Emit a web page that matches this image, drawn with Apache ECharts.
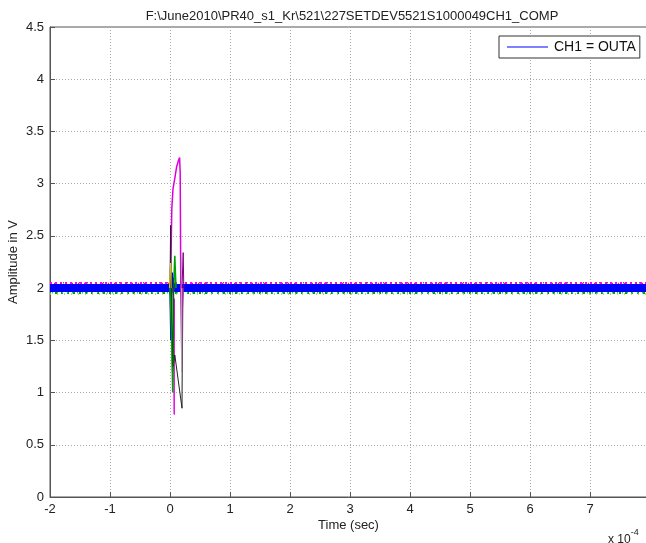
<!DOCTYPE html>
<html>
<head>
<meta charset="utf-8">
<script src="https://cdn.jsdelivr.net/npm/echarts@6/dist/echarts.min.js"></script>
<style>html,body{margin:0;padding:0;background:#fff;}#c{width:646px;height:543px;}</style>
</head>
<body>
<div id="c"></div>
<script>
// Time axis in units of 1e-4 s
var xTicks = [-2, -1, 0, 1, 2, 3, 4, 5, 6, 7];
var yTicks = [0, 0.5, 1, 1.5, 2, 2.5, 3, 3.5, 4, 4.5];
var timeStart = -2, timeEnd = 7.95;

// baseline band levels (V) of overlapping traces
var bandMagenta = [2.048, 2.048];
var bandRed = [2.042, 2.042];
var bandGreen = [1.952, 1.952];
var bandCyan = [1.957, 1.957];
var bandYellow = [1.944, 1.944];
var bandGray = [2.052, 2.052];
var bandBlue = [2.0, 2.0];

// transient traces near t = 0: [time (1e-4 s), volts]
var spikeMagenta = [[0.0, 2.0], [0.02, 2.4], [0.03, 2.76], [0.05, 2.95], [0.08, 3.05], [0.11, 3.16], [0.14, 3.22], [0.16, 3.25], [0.17, 3.1], [0.18, 2.0], [0.2, 1.2], [0.21, 1.8], [0.22, 2.0]];
var spikeMagenta2 = [[0.05, 2.0], [0.07, 0.79], [0.075, 1.9]];
var spikeBlack = [[0.0, 2.0], [0.01, 2.6], [0.02, 1.9], [0.04, 1.2], [0.08, 1.36], [0.2, 0.85], [0.21, 2.0]];
var spikeGray = [[0.19, 2.3], [0.195, 1.2], [0.2, 2.0]];
var spikeGreen = [[0.0, 2.0], [0.03, 1.5], [0.045, 1.0], [0.06, 2.0], [0.08, 2.31], [0.1, 2.0]];
var spikeDarkGreen = [[0.02, 2.0], [0.05, 1.25], [0.06, 2.1], [0.07, 2.0]];
var spikeYellow = [[-0.01, 2.0], [0.01, 2.24], [0.02, 2.0]];
var spikePurple = [[0.2, 2.0], [0.22, 2.34], [0.23, 2.0]];
var spikeBlue = [[0.0, 2.0], [0.015, 1.5], [0.03, 2.0], [0.04, 2.15], [0.05, 2.0]];

function flat(levels) { return [[timeStart, levels[0]], [timeEnd, levels[1]]]; }

function bandSeries(levels, color, width, dash, offset) {
  return { type: 'line', data: flat(levels), symbol: 'none', silent: true, color: color,
    lineStyle: { color: color, width: width, type: dash, dashOffset: offset || 0, cap: 'butt' } };
}
function spikeSeries(data, color, width) {
  return { type: 'line', data: data, symbol: 'none', silent: true, color: color,
    lineStyle: { color: color, width: width || 1 } };
}

var font = 'Liberation Sans, Arial, sans-serif';
var chart = echarts.init(document.getElementById('c'), null, { renderer: 'canvas' });
chart.setOption({
  animation: false,
  backgroundColor: '#fff',
  title: {
    text: 'F:\\June2010\\PR40_s1_Kr\\521\\227SETDEV5521S1000049CH1_COMP',
    left: 347, top: 5, textAlign: 'center',
    textStyle: { fontFamily: font, fontSize: 13, fontWeight: 'normal', color: '#222' }
  },
  legend: {
    left: 499, top: 36, orient: 'vertical',
    padding: [4, 4, 4, 8],
    borderColor: '#333', borderWidth: 1, backgroundColor: '#fff',
    itemWidth: 41, itemHeight: 1, itemGap: 0,
    data: [{ name: 'CH1 = OUTA', icon: 'rect', itemStyle: { color: '#0000ff' } }],
    textStyle: { fontFamily: font, fontSize: 14, color: '#111', padding: [0, 0, 0, 1] }
  },
  graphic: [{
    type: 'text', left: 608, top: 528,
    style: {
      text: '{b|x 10}{s|-4}',
      rich: {
        b: { fontFamily: font, fontSize: 12, fill: '#222', padding: [6, 0, 0, 0] },
        s: { fontFamily: font, fontSize: 9, fill: '#222', verticalAlign: 'top' }
      }
    }
  }],
  grid: { left: 50, top: 27, width: 597, height: 470, outerBoundsMode: 'none', containLabel: false,
    show: true, borderColor: '#555', borderWidth: 1, backgroundColor: 'transparent' },
  xAxis: {
    type: 'value', min: timeStart, max: timeEnd, interval: 1,
    name: 'Time (sec)', nameLocation: 'middle', nameGap: 22, nameMoveOverlap: false,
    nameTextStyle: { fontFamily: font, fontSize: 13, color: '#222' },
    axisLine: { onZero: false, lineStyle: { color: '#555' } },
    axisTick: { inside: true, length: 5, lineStyle: { color: '#555' } },
    axisLabel: { fontFamily: font, fontSize: 13, color: '#222', margin: 6, showMaxLabel: false,
      formatter: function (v) { return xTicks.indexOf(v) >= 0 ? String(v) : ''; } },
    splitLine: { show: true, lineStyle: { color: '#aaa', type: [1, 2] } }
  },
  yAxis: {
    type: 'value', min: 0, max: 4.5, interval: 0.5,
    name: 'Amplitude in V', nameLocation: 'middle', nameGap: 30, nameMoveOverlap: false,
    nameTextStyle: { fontFamily: font, fontSize: 13, color: '#222' },
    axisLine: { show: true, onZero: false, lineStyle: { color: '#555' } },
    axisTick: { show: true, inside: true, length: 5, lineStyle: { color: '#555' } },
    axisLabel: { fontFamily: font, fontSize: 13, color: '#222', margin: 6,
      formatter: function (v) { return yTicks.indexOf(v) >= 0 ? String(v) : ''; } },
    splitLine: { show: true, lineStyle: { color: '#aaa', type: [1, 2] } }
  },
  series: [
    bandSeries(bandGray, '#666666', 1.5, [1, 7], 3),
    bandSeries(bandMagenta, '#ff00ff', 2, [2, 3], 0),
    bandSeries(bandRed, '#ff2020', 2, [1, 5], 2),
    bandSeries(bandGreen, '#00a000', 2, [2, 4], 1),
    bandSeries(bandCyan, '#00c8c8', 2, [1, 4], 3),
    bandSeries(bandYellow, '#c8c800', 1.5, [1, 6], 0),
    { name: 'CH1 = OUTA', type: 'line', data: flat(bandBlue), symbol: 'none', silent: true, color: '#0000ff',
      itemStyle: { color: '#0000ff' },
      lineStyle: { color: '#0000ff', width: 8, cap: 'butt' } },
    spikeSeries(spikeBlue, '#0000ff', 1.5),
    spikeSeries(spikeMagenta, '#dd00dd', 1.5),
    spikeSeries(spikeMagenta2, '#dd00dd'),
    spikeSeries(spikeBlack, '#222222'),
    spikeSeries(spikeGray, '#aaaaaa'),
    spikeSeries(spikeGreen, '#00a000', 1.5),
    spikeSeries(spikeDarkGreen, '#006000'),
    spikeSeries(spikeYellow, '#d0d000'),
    spikeSeries(spikePurple, '#800080')
  ]
});
</script>
</body>
</html>
